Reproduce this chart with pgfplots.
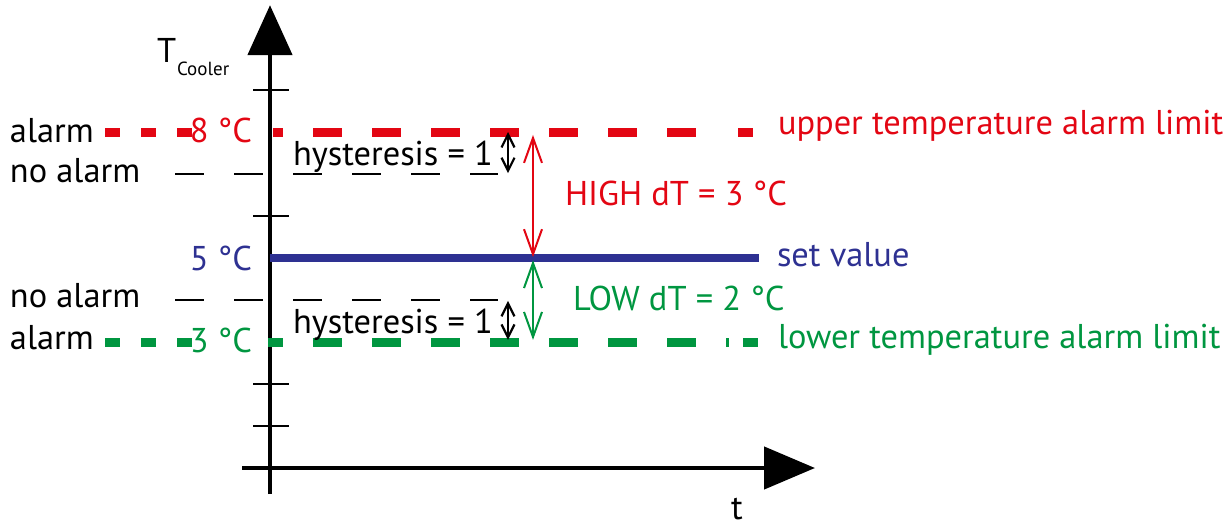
\documentclass[border=0pt]{standalone}
\usepackage{fontspec}
\setmainfont{PT Sans}
\usepackage{pgfplots}
\pgfplotsset{compat=1.18}
\usetikzlibrary{arrows.meta}
\definecolor{cred}{RGB}{227,6,19}
\definecolor{cblue}{RGB}{46,49,146}
\definecolor{cgreen}{RGB}{0,150,64}
\newcommand\lbl{\fontsize{17.2}{20}\selectfont}
\protected\def\degC{\char"00B0 C}
\tikzset{lb/.style={inner sep=0pt, outer sep=0pt, font=\lbl}}
\begin{document}
\begin{tikzpicture}
\begin{axis}[name=ax, scale only axis, width=613pt, height=263pt,
  xmin=0, xmax=1226, ymin=-1.381, ymax=11.143, hide axis, clip=false]
% axes
\draw[line width=2.4pt, -{Triangle[length=25pt,width=22pt]}] (axis cs:270,-0.619) -- (axis cs:270,11.02);
\draw[line width=2.3pt, -{Triangle[length=25.5pt,width=21pt]}] (axis cs:242,0) -- (axis cs:815,0);
% ticks
\addplot[black, line width=1pt] coordinates {(253,1) (289,1)};
\addplot[black, line width=1pt] coordinates {(253,2) (289,2)};
\addplot[black, line width=1pt] coordinates {(253,6) (289,6)};
\addplot[black, line width=1pt] coordinates {(253,9) (289,9)};
% no alarm thresholds
\addplot[black, line width=1pt, dash pattern=on 14.5pt off 15pt] coordinates {(175,7) (498,7)};
\addplot[black, line width=1pt, dash pattern=on 14.5pt off 15pt] coordinates {(175,4) (498,4)};
% upper limit
\addplot[cred, line width=4.5pt, dash pattern=on 7.5pt off 10.5pt] coordinates {(105,8) (192,8)};
\addplot[cred, line width=4.5pt, dash pattern=on 14.5pt off 15pt, dash phase=9.5pt] coordinates {(273,8) (696,8)};
\addplot[cred, line width=4.5pt] coordinates {(738,8) (753,8)};
% lower limit
\addplot[cgreen, line width=4.5pt, dash pattern=on 7.5pt off 10.5pt] coordinates {(105,3) (192,3)};
\addplot[cgreen, line width=4.5pt, dash pattern=on 14.5pt off 15pt, dash phase=7pt] coordinates {(268,3) (696,3)};
\addplot[cgreen, line width=4.5pt] coordinates {(726,3) (729,3)};
\addplot[cgreen, line width=4.5pt] coordinates {(743,3) (758,3)};
% set value
\addplot[cblue, line width=4pt] coordinates {(270,5) (759,5)};
% arrows
\draw[line width=1.1pt, {Straight Barb[length=6.5pt,width=6.5pt]}-{Straight Barb[length=6.5pt,width=6.5pt]}] (axis cs:508,8) -- (axis cs:508,7.02);
\draw[line width=1.1pt, {Straight Barb[length=6.5pt,width=6.5pt]}-{Straight Barb[length=6.5pt,width=6.5pt]}] (axis cs:508,3.98) -- (axis cs:508,3.05);
\draw[cred, line width=1pt, {Straight Barb[length=12.5pt,width=9pt]}-{Straight Barb[length=12.5pt,width=9pt]}] (axis cs:533,7.93) -- (axis cs:533,5.02);
\draw[cgreen, line width=1pt, {Straight Barb[length=12.5pt,width=9pt]}-{Straight Barb[length=12.5pt,width=9pt]}] (axis cs:533,4.95) -- (axis cs:533,3.05);
% labels
\node[lb, anchor=base west] at (axis cs:157,9.643) {T};
\node[lb, anchor=base west, font=\fontsize{9.5}{11}\selectfont] at (axis cs:177,9.357) {Cooler};
\node[lb, anchor=base west] at (axis cs:10,7.762) {alarm};
\node[lb, anchor=base west] at (axis cs:10,6.786) {no alarm};
\node[lb, anchor=base west] at (axis cs:10,3.81) {no alarm};
\node[lb, anchor=base west] at (axis cs:10,2.81) {alarm};
\node[lb, anchor=base east, text=cred] at (axis cs:252,7.74) {8 \degC};
\node[lb, anchor=base east, text=cblue] at (axis cs:252,4.714) {5 \degC};
\node[lb, anchor=base east, text=cgreen] at (axis cs:252,2.76) {3 \degC};
\node[lb, anchor=base west] at (axis cs:293,7.214) {hysteresis = 1};
\node[lb, anchor=base west] at (axis cs:293,3.214) {hysteresis = 1};
\node[lb, anchor=base west, text=cred] at (axis cs:565,6.262) {HIGH dT = 3 \degC};
\node[lb, anchor=base west, text=cgreen] at (axis cs:573,3.762) {LOW dT = 2 \degC};
\node[lb, anchor=base west, text=cblue] at (axis cs:777,4.786) {set value};
\node[lb, anchor=base west, text=cred] at (axis cs:778,7.93) {upper temperature alarm limit};
\node[lb, anchor=base west, text=cgreen] at (axis cs:778,2.857) {lower temperature alarm limit};
\node[lb, anchor=base] at (axis cs:737,-1.22) {t};
\end{axis}
\pgfresetboundingbox
\path (ax.south west) rectangle (ax.north east);
\end{tikzpicture}
\end{document}
